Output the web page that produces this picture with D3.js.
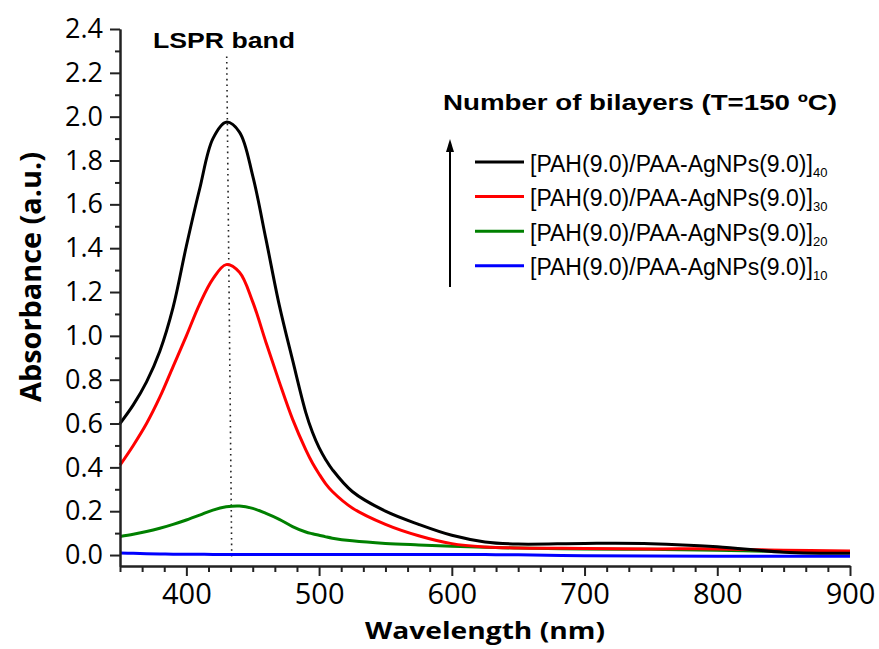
<!DOCTYPE html>
<html>
<head>
<meta charset="utf-8">
<script src="https://cdn.jsdelivr.net/npm/d3@7/dist/d3.min.js"></script>
<style>
  html, body { margin: 0; padding: 0; background: #fff; }
  svg { display: block; }
</style>
</head>
<body>
<div id="chart"></div>
<script>
// 数据 -----------------------------------
var wavelength = [350, 360, 370, 380, 390, 400, 410, 420, 430, 440, 450, 460, 470, 480, 490, 495, 500, 505, 510, 525, 550, 575, 600, 625, 650, 700, 750, 800, 850, 900]
var bil40 = [0.60, 0.685, 0.79, 0.93, 1.13, 1.41, 1.67, 1.90, 1.975, 1.93, 1.73, 1.44, 1.14, 0.89, 0.65, 0.56, 0.49, 0.435, 0.39, 0.29, 0.20, 0.14, 0.09, 0.06, 0.05, 0.053, 0.052, 0.038, 0.013, 0.008]
var bil30 = [0.41, 0.50, 0.60, 0.72, 0.86, 1.00, 1.145, 1.26, 1.325, 1.29, 1.155, 0.97, 0.79, 0.62, 0.48, 0.42, 0.37, 0.325, 0.29, 0.215, 0.14, 0.088, 0.052, 0.037, 0.032, 0.03, 0.028, 0.028, 0.022, 0.018]
var bil20 = [0.085, 0.095, 0.107, 0.122, 0.14, 0.16, 0.182, 0.205, 0.22, 0.224, 0.213, 0.19, 0.163, 0.13, 0.105, 0.097, 0.09, 0.083, 0.077, 0.065, 0.053, 0.046, 0.04, 0.035, 0.032, 0.028, 0.026, 0.022, 0.016, 0.015]
var bil10 = [0.009, 0.008, 0.006, 0.005, 0.004, 0.004, 0.004, 0.003, 0.003, 0.003, 0.003, 0.003, 0.003, 0.003, 0.003, 0.003, 0.003, 0.003, 0.003, 0.003, 0.003, 0.003, 0.003, 0.002, 0.001, -0.003, -0.004, -0.005, -0.005, -0.005]
var seriesNames = ['40', '30', '20', '10']
var seriesColors = ['#000000', '#ff0000', '#008000', '#0000ff']
var seriesValues = [bil40, bil30, bil20, bil10]
var xTicks = [400, 500, 600, 700, 800, 900]
var yTicks = [0.0, 0.2, 0.4, 0.6, 0.8, 1.0, 1.2, 1.4, 1.6, 1.8, 2.0, 2.2, 2.4]
var lsprLine = [[430.4, 2.275], [434.2, -0.02]]

var W = 879
var H = 649
var svg = d3.select('#chart').append('svg')
  .attr('width', W)
  .attr('height', H)

var x = d3.scaleLinear().domain([350, 900]).range([120, 850])
var y = d3.scaleLinear().domain([-0.05, 2.4]).range([566, 29])

// 曲线
var line = d3.line()
  .x(function (d) { return x(d[0]) })
  .y(function (d) { return y(d[1]) })
  .curve(d3.curveCatmullRom.alpha(0.5))
var straight = d3.line()
  .x(function (d) { return x(d[0]) })
  .y(function (d) { return y(d[1]) })

// LSPR 虚线
svg.append('path')
  .attr('d', straight(lsprLine))
  .attr('fill', 'none')
  .attr('stroke', '#222')
  .attr('stroke-width', 1.6)
  .attr('stroke-dasharray', '1.6,4')

// 从下往上画，黑线在最上面
for (var i = seriesValues.length - 1; i >= 0; i--) {
  var pts = wavelength.map(function (w, j) { return [w, seriesValues[i][j]] })
  svg.append('path')
    .datum(pts)
    .attr('d', line)
    .attr('fill', 'none')
    .attr('stroke', seriesColors[i])
    .attr('stroke-width', 3)
    .attr('stroke-linejoin', 'round')
}

// 坐标轴
var xMinor = d3.range(0, 34).map(function (k) { return 350 + k * 100 / 6 })
  .filter(function (v) { return Math.abs(v / 100 - Math.round(v / 100)) > 0.01 })
var yMinor = d3.range(1, 25, 2).map(function (k) { return k / 10 })

svg.append('g')
  .attr('transform', 'translate(0,566)')
  .call(d3.axisBottom(x).tickValues(xMinor).tickSize(6).tickSizeOuter(0).tickFormat(''))
svg.append('g')
  .attr('class', 'xaxis')
  .attr('transform', 'translate(0,566)')
  .call(d3.axisBottom(x).tickValues(xTicks).tickSize(10).tickSizeOuter(0).tickPadding(7).tickFormat(d3.format('d')))
svg.append('g')
  .attr('transform', 'translate(120,0)')
  .call(d3.axisLeft(y).tickValues(yMinor).tickSize(5).tickSizeOuter(0).tickFormat(''))
svg.append('g')
  .attr('class', 'yaxis')
  .attr('transform', 'translate(120,0)')
  .call(d3.axisLeft(y).tickValues(yTicks).tickSize(10).tickSizeOuter(0).tickPadding(7).tickFormat(d3.format('.1f')))

svg.selectAll('.domain, .tick line')
  .attr('stroke', '#222')
  .attr('stroke-width', 2)
svg.selectAll('.tick text')
  .attr('fill', '#000')
  .style('font-family', '"Open Sans", sans-serif')
svg.selectAll('.xaxis .tick text').style('font-size', '29px')
svg.selectAll('.yaxis .tick text').style('font-size', '27px')

// 轴标题
svg.append('text')
  .attr('x', 365)
  .attr('y', 639)
  .attr('textLength', 240)
  .attr('lengthAdjust', 'spacingAndGlyphs')
  .style('font', 'bold 24px "Open Sans", sans-serif')
  .text('Wavelength (nm)')
svg.append('text')
  .attr('transform', 'translate(41,402) rotate(-90)')
  .attr('textLength', 250)
  .attr('lengthAdjust', 'spacingAndGlyphs')
  .style('font', 'bold 29px "Open Sans", sans-serif')
  .text('Absorbance (a.u.)')

svg.append('text')
  .attr('x', 153)
  .attr('y', 48)
  .attr('textLength', 142)
  .attr('lengthAdjust', 'spacingAndGlyphs')
  .style('font', 'bold 22px "Liberation Sans", Arial, sans-serif')
  .text('LSPR band')

// 图例
svg.append('text')
  .attr('x', 443)
  .attr('y', 110)
  .attr('textLength', 394)
  .attr('lengthAdjust', 'spacingAndGlyphs')
  .style('font', 'bold 22px "Liberation Sans", Arial, sans-serif')
  .text('Number of bilayers (T=150 ºC)')

svg.append('line')
  .attr('x1', 450).attr('x2', 450)
  .attr('y1', 287).attr('y2', 150)
  .attr('stroke', '#000')
  .attr('stroke-width', 2)
svg.append('path')
  .attr('d', 'M450,139L446,152L454,152Z')
  .attr('fill', '#000')

var legend = svg.append('g')
seriesNames.forEach(function (name, i) {
  var ly = 162 + i * 34.6
  legend.append('line')
    .attr('x1', 475).attr('x2', 524)
    .attr('y1', ly).attr('y2', ly)
    .attr('stroke', seriesColors[i])
    .attr('stroke-width', 3)
  var t = legend.append('text')
    .attr('x', 530)
    .attr('y', ly + 9.5)
    .style('font', '23px "Liberation Sans", Arial, sans-serif')
  t.append('tspan').text('[PAH(9.0)/PAA-AgNPs(9.0)]')
  t.append('tspan')
    .attr('dy', 5)
    .style('font-size', '13px')
    .text(name)
})
</script>
</body>
</html>
